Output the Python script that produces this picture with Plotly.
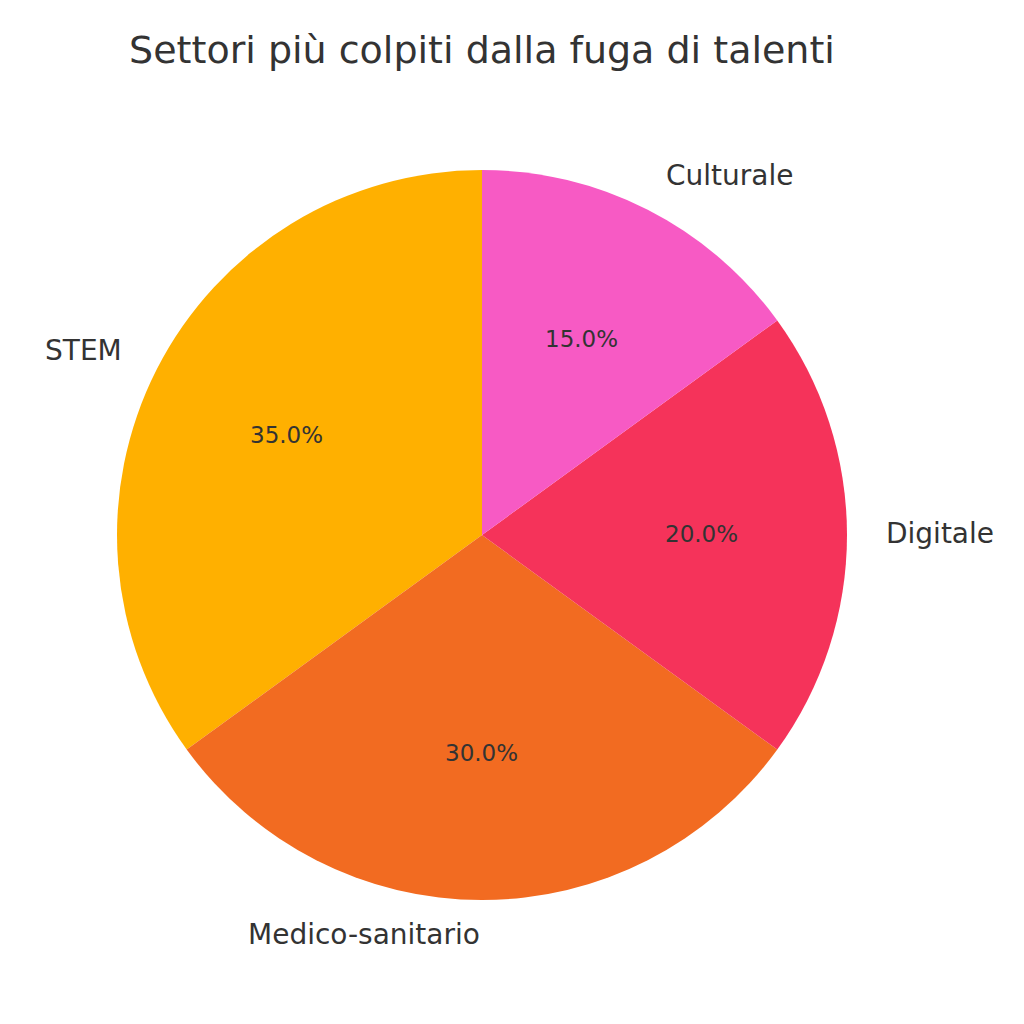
import math
import plotly.graph_objects as go

# Data
categories = ["STEM", "Medico-sanitario", "Digitale", "Culturale"]
values = [35, 30, 20, 15]
colors = ["#FFB000", "#F26B21", "#F5335A", "#F75AC4"]
title_text = "Settori più colpiti dalla fuga di talenti"

W = H = 1024
OFF = 8  # page body margin
cx, cy, R = 482 - OFF, 535 - OFF, 365  # pie centre / radius in pixels
FONT = "DejaVu Sans"
TXT = "#333333"

total = sum(values)

fig = go.Figure(go.Pie(
    labels=categories, values=values, sort=False,
    direction="counterclockwise", rotation=-360.0 * values[0] / total,
    marker=dict(colors=colors, line=dict(width=0)),
    textinfo="none", hoverinfo="label+percent", showlegend=False,
    domain=dict(x=[(cx - R) / W, (cx + R) / W], y=[1 - (cy + R) / H, 1 - (cy - R) / H]),
))

start = 90.0
annotations = []
for cat, v in zip(categories, values):
    span = 360.0 * v / total
    mid = math.radians(start + span / 2)
    start += span
    c, s = math.cos(mid), math.sin(mid)
    # outer label at 1.1 R
    lx = cx + 1.1 * R * c
    ly = cy - 1.1 * R * s - 2
    annotations.append(dict(
        x=lx / W, y=1 - ly / H, xref="paper", yref="paper",
        text=cat, showarrow=False, xanchor="left" if c > 1e-9 else "right",
        yanchor="middle", font=dict(family=FONT, size=28, color=TXT),
    ))
    # percentage at 0.6 R
    px = cx + 0.6 * R * c
    py = cy - 0.6 * R * s - 1
    annotations.append(dict(
        x=px / W, y=1 - py / H, xref="paper", yref="paper",
        text=f"{100 * v / total:.1f}%", showarrow=False,
        xanchor="center", yanchor="middle",
        font=dict(family=FONT, size=23, color=TXT),
    ))

fig.update_layout(
    width=W, height=H,
    margin=dict(l=0, r=0, t=0, b=0),
    paper_bgcolor="white", plot_bgcolor="white",
    title=dict(text=title_text, x=cx / W, xanchor="center",
               y=1 - (50 - OFF) / H, yanchor="middle", xref="paper", yref="container",
               font=dict(family=FONT, size=38, color=TXT)),
    annotations=annotations,
)

fig.write_html("out.html")
